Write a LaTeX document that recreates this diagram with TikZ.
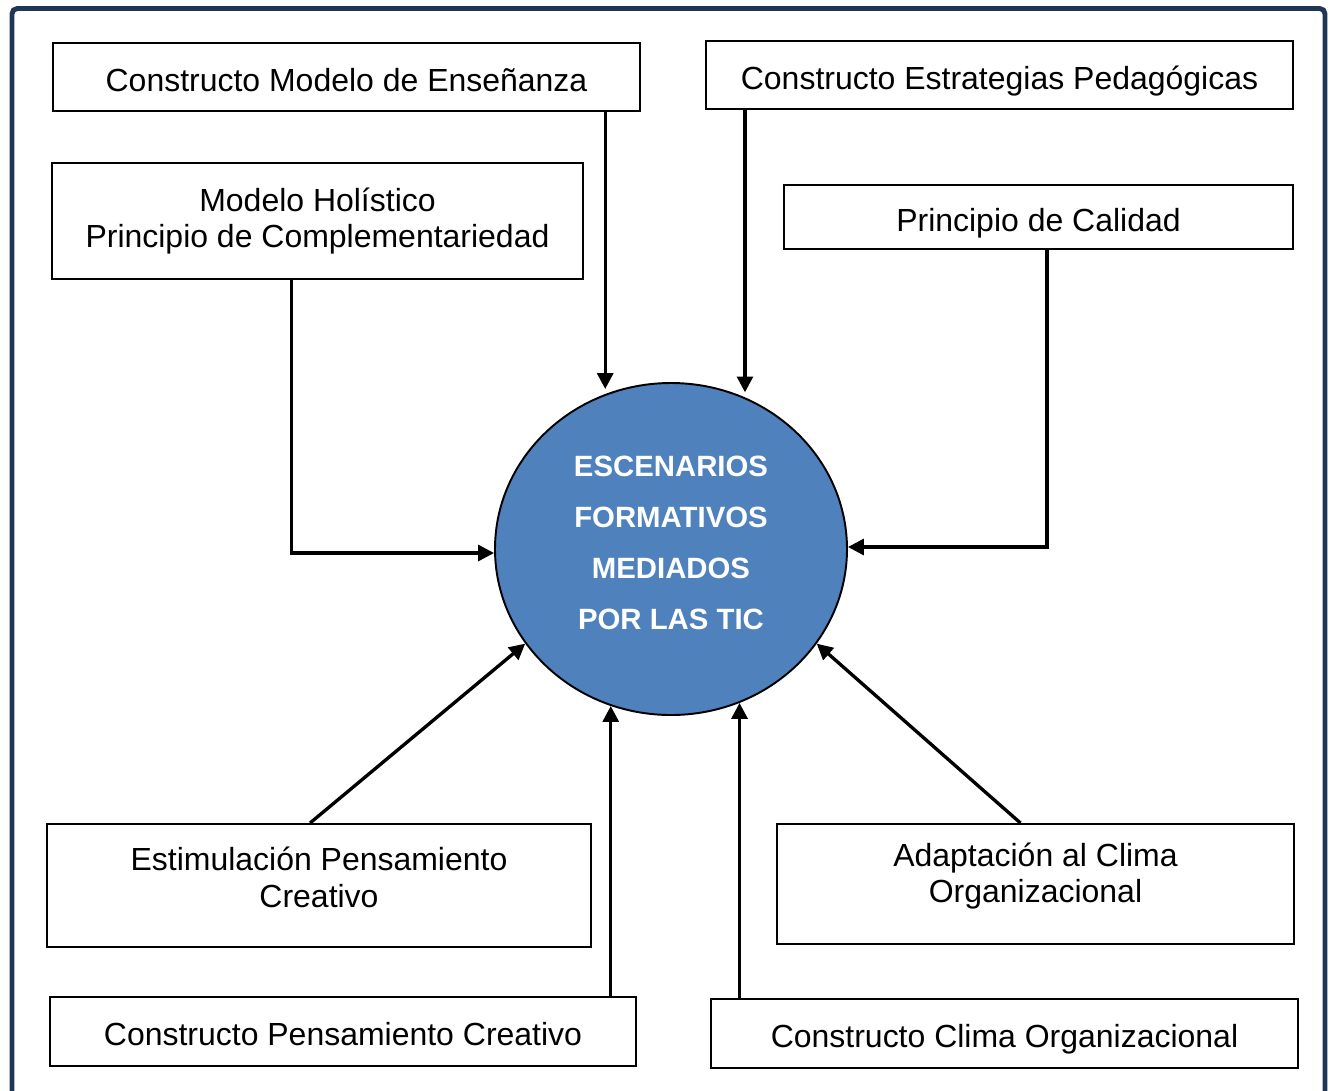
\documentclass[tikz,border=0pt]{standalone}
\usepackage{fontspec}
\setmainfont{Liberation Sans}
\usetikzlibrary{arrows.meta,shapes.geometric,calc}
\newlength\pxu
\setlength\pxu{0.02cm}
\definecolor{framecol}{RGB}{31,55,85}
\definecolor{circfill}{RGB}{79,129,189}
\begin{document}
\begin{tikzpicture}[
    x=0.02cm, y=-0.02cm,
    box/.style={draw, line width=1.1pt, inner sep=0pt, align=center,
        font=\fontsize{18.2}{21}\selectfont},
    onebox/.style={box, text height=16pt, text depth=0pt},
    arrow/.style={-{Triangle[length=9pt,width=9pt]}, line width=1.9pt}
]
\useasboundingbox (0,0) rectangle (1330,1090);

% outer frame (open at the bottom)
\draw[framecol, line width=2.8pt, rounded corners=3pt] (12,1110) |- (1325,8.5) -- (1325,1110);

% central scenario
\node[ellipse, draw, line width=1.1pt, fill=circfill, text=white, inner sep=0pt,
    minimum width=352\pxu, minimum height=332\pxu, align=center, text depth=7.4pt,
    font=\fontsize{16.7}{29}\selectfont\bfseries] (esc) at (671,549)
    {ESCENARIOS\\FORMATIVOS\\MEDIADOS\\POR LAS TIC};

% upper boxes
\node[onebox, minimum width=587\pxu, minimum height=68\pxu] (mod) at (346.5,77) {Constructo Modelo de Enseñanza};
\node[onebox, minimum width=587\pxu, minimum height=68\pxu] (est) at (999.5,75) {Constructo Estrategias Pedagógicas};
\node[box, minimum width=531\pxu, minimum height=116\pxu] (hol) at (317.5,221) {Modelo Holístico\\Principio de Complementariedad};
\node[onebox, minimum width=509\pxu, minimum height=64\pxu] (cal) at (1038.5,217) {Principio de Calidad};

% lower boxes
\node[box, minimum width=544\pxu, minimum height=123\pxu, text depth=9pt] (pen) at (319,885.5) {Estimulación Pensamiento\\Creativo};
\node[box, minimum width=517\pxu, minimum height=120\pxu, text depth=12.9pt] (ada) at (1035.5,884) {Adaptación al Clima\\Organizacional};
\node[onebox, minimum width=586\pxu, minimum height=69\pxu] (cpc) at (343,1031.5) {Constructo Pensamiento Creativo};
\node[onebox, minimum width=587\pxu, minimum height=69\pxu] (cco) at (1004.5,1033.5) {Constructo Clima Organizacional};

% connectors into the centre
\draw[arrow, shorten >=5\pxu] (mod.south -| esc.113) -- (esc.113);
\draw[arrow, shorten >=5\pxu] (est.south -| esc.64) -- (esc.64);
\draw[arrow] ($(hol.south)+(-26,0)$) |- ([yshift=-4\pxu]esc.west);
\draw[arrow] ($(cal.south)+(8.5,0)$) |- ([yshift=2\pxu]esc.east);
\draw[arrow] ($(pen.north)+(-9,0)$) -- (esc.213);
\draw[arrow] ($(ada.north)+(-15,0)$) -- (esc.327);
\draw[arrow] (cpc.north -| esc.249) -- (esc.249);
\draw[arrow] (cco.north -| esc.294) -- (esc.294);

\end{tikzpicture}
\end{document}
